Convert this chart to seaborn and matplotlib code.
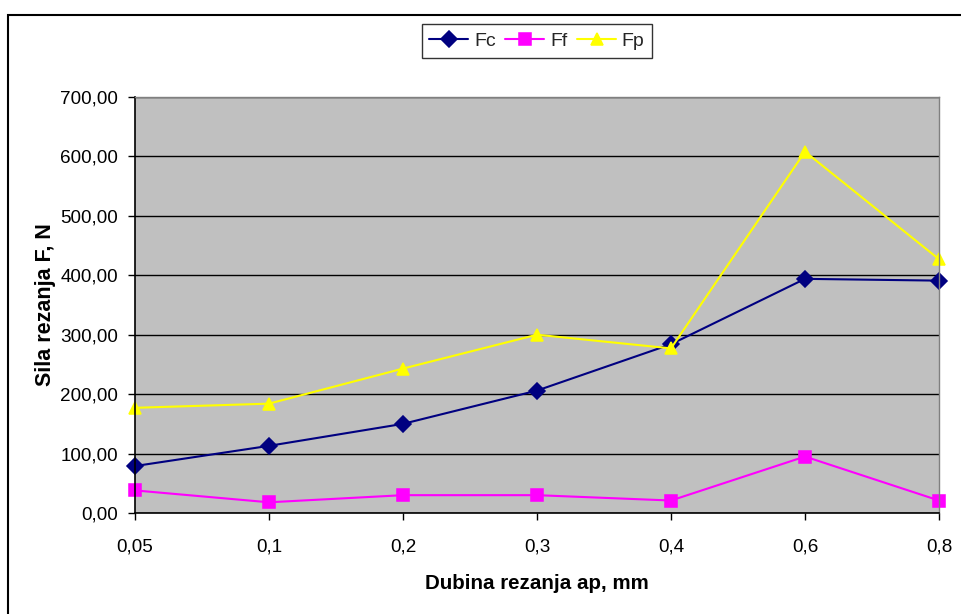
import pandas as pd
import matplotlib
matplotlib.use("Agg")
import matplotlib.pyplot as plt
import seaborn as sns
from matplotlib.patches import Rectangle
from matplotlib.ticker import FuncFormatter

# depth of cut categories (evenly spaced, as in the original sheet)
dubina = ["0,05", "0,1", "0,2", "0,3", "0,4", "0,6", "0,8"]
Fc = [79, 113, 150, 206, 284, 394, 391]
Ff = [38, 18, 30, 30, 21, 95, 21]
Fp = [177, 184, 243, 300, 277, 608, 427]

serije = ["Fc", "Ff", "Fp"]
boje = {"Fc": "#000080", "Ff": "#FF00FF", "Fp": "#FFFF00"}
markeri = ["D", "s", "^"]

df = pd.DataFrame({
    "ap": dubina * 3,
    "F": Fc + Ff + Fp,
    "serija": ["Fc"] * 7 + ["Ff"] * 7 + ["Fp"] * 7,
})

sns.set_style("white")
plt.rcParams["font.family"] = ["Liberation Sans", "DejaVu Sans"]

fig = plt.figure(figsize=(9.61, 6.14), dpi=100)
ax = fig.add_axes([135 / 961, 1 - 513 / 614, 804 / 961, 416 / 614])
ax.set_facecolor("#C0C0C0")

sns.pointplot(data=df, x="ap", y="F", hue="serija", order=dubina,
              hue_order=serije, palette=boje, markers=markeri,
              linestyles="-", linewidth=1.5, markersize=8, ax=ax)

# let markers at the first/last category spill over the plot edge
for ln in ax.lines:
    ln.set_clip_on(False)

ax.set_xlim(0, 6)
ax.set_ylim(0, 700)
ax.set_yticks(range(0, 701, 100))
ax.yaxis.set_major_formatter(FuncFormatter(lambda v, p: f"{v:.2f}".replace(".", ",")))
ax.grid(axis="y", color="black", linewidth=1)
ax.set_axisbelow(True)

for s in ["left", "bottom"]:
    ax.spines[s].set_color("black")
    ax.spines[s].set_linewidth(1.2)
for s in ["top", "right"]:
    ax.spines[s].set_color("#808080")
    ax.spines[s].set_linewidth(1)

ax.tick_params(axis="both", direction="out", length=5, width=1, color="black",
               labelsize=13.6, labelcolor="black", left=True, bottom=True)
ax.tick_params(axis="x", pad=13)
ax.tick_params(axis="y", pad=7)

ax.set_xlabel("Dubina rezanja ap, mm", fontsize=14.8, fontweight="bold",
              labelpad=14, color="black")
ax.set_ylabel("Sila rezanja F, N", fontsize=15.5, fontweight="bold",
              labelpad=3, color="black")

leg = ax.legend(loc="center", bbox_to_anchor=(537 / 961, 1 - 41 / 614),
                bbox_transform=fig.transFigure, ncol=3, fontsize=14,
                frameon=True, fancybox=False, edgecolor="black",
                handlelength=2.0, handletextpad=0.3, columnspacing=0.5,
                borderpad=0.4, title=None)
leg.get_frame().set_linewidth(1)

# outer chart border (Excel chart area)
fig.patches.append(Rectangle((8 / 961, -0.05), 1.0, 1 - 15 / 614 + 0.05,
                             transform=fig.transFigure, fill=False,
                             edgecolor="black", linewidth=1.5))

fig.savefig("out.png", dpi=100)
